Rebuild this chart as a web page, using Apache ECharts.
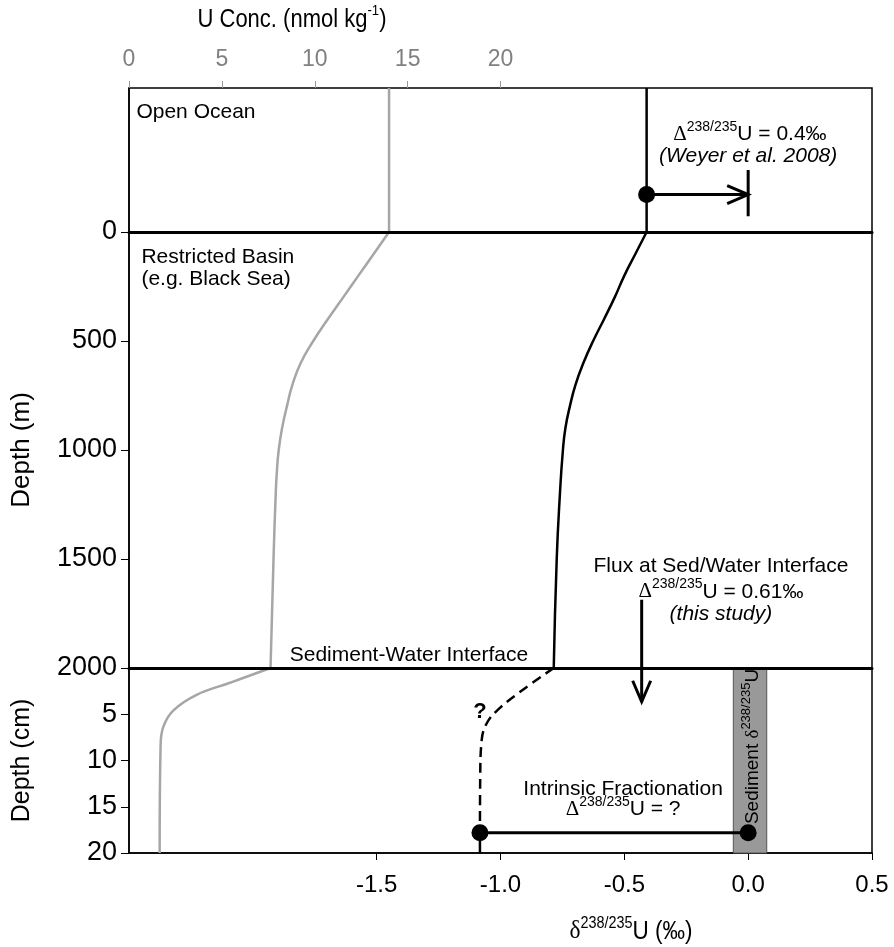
<!DOCTYPE html>
<html><head><meta charset="utf-8">
<script src="https://cdn.jsdelivr.net/npm/echarts@6/dist/echarts.min.js"></script>
<style>html,body{margin:0;padding:0;background:#fff}#c{width:894px;height:947px}</style>
</head><body><div id="c"></div>
<script>
// ---------------- data ----------------
const uConcTicks = [0, 5, 10, 15, 20];
const deltaTicks = [-1.5, -1.0, -0.5, 0.0, 0.5];

// open ocean panel has no depth scale: 0 = top of panel, 1 = sea level
const oceanPanel = [0, 1];
const oceanU = 14;
const oceanDelta = -0.41;

// restricted basin (depth in m)
const basinDepthU = [0, 100, 200, 300, 400, 500, 600, 700, 800, 900, 1000, 1100, 1200, 1500, 2000];
const basinU      = [14, 13.18, 12.35, 11.53, 10.7, 9.92, 9.25, 8.8, 8.5, 8.24, 8.06, 7.96, 7.9, 7.78, 7.62];
const basinDepthDelta = [0, 100, 200, 300, 400, 500, 600, 700, 800, 900, 1000, 1200, 1500, 2000];
const basinDelta      = [-0.41, -0.455, -0.50, -0.539, -0.582, -0.626, -0.665, -0.697, -0.72, -0.738, -0.748, -0.76, -0.773, -0.785];

// sediment (depth in cm)
const sedDepthU = [0, 1.6, 2.9, 4.6, 6.4, 8.5, 20];
const sedU      = [7.62, 5.43, 3.64, 2.38, 1.84, 1.7, 1.65];
const sedDepthDelta = [0, 2.6, 4.5, 6.0, 7.8, 12, 17.8];
const sedDelta      = [-0.785, -0.922, -1.01, -1.056, -1.076, -1.082, -1.083];
const sedTailDepth = [17.8, 20];
const sedTailDelta = [-1.083, -1.083];

// annotation marks
const weyerArrowDelta = [-0.41, 0.0];
const weyerArrowLevel = 0.74;
const weyerBarLevel = [0.57, 0.89];
const fluxDelta = -0.43;
const fluxStartDepthM = 1687;
const fluxEndDepthCm = 3.65;
const intrinsicDelta = [-1.083, 0.0];
const intrinsicDepthCm = 17.8;
const sedimentBand = [-0.06, 0.075];

// ---------------- styles ----------------
const SANS = '"Liberation Sans", Arial, sans-serif';
const SERIF = '"Liberation Serif", "Times New Roman", serif';
const FS = 21;
const LH = 25;
const rich = {
  b: { fontSize: FS, fontFamily: SANS, lineHeight: LH, verticalAlign: 'bottom', color: '#000' },
  i: { fontSize: FS, fontFamily: SANS, fontStyle: 'italic', lineHeight: LH, verticalAlign: 'bottom', color: '#000' },
  g: { fontSize: FS, fontFamily: SERIF, lineHeight: LH, verticalAlign: 'bottom', color: '#000' },
  s: { fontSize: 14, fontFamily: SANS, lineHeight: 13, verticalAlign: 'top', color: '#000' },
  q: { fontSize: 22, fontFamily: SANS, fontWeight: 'bold', lineHeight: LH, verticalAlign: 'bottom', color: '#000' }
};

const oceanNotes = [
  { at: [-2.47, 0.153], text: '{b|Open Ocean}', align: 'left' },
  { at: [0.007, 0.31], text: '{g|Δ}{s|238/235}{b|U = 0.4‰}' },
  { at: [0.0, 0.46], text: '{i|(Weyer et al. 2008)}' }
];
const basinNotes = [
  { at: [-2.45, 105], text: '{b|Restricted Basin}', align: 'left' },
  { at: [-2.45, 206], text: '{b|(e.g. Black Sea)}', align: 'left' },
  { at: [-1.851, 1931], text: '{b|Sediment-Water Interface}', align: 'left' },
  { at: [-0.11, 1523], text: '{b|Flux at Sed/Water Interface}' },
  { at: [-0.11, 1642], text: '{g|Δ}{s|238/235}{b|U = 0.61‰}' },
  { at: [-0.11, 1743], text: '{i|(this study)}' }
];
const sedNotes = [
  { at: [-1.083, 4.55], text: '{q|?}' },
  { at: [-0.505, 12.9], text: '{b|Intrinsic Fractionation}' },
  { at: [-0.505, 15.1], text: '{g|Δ}{s|238/235}{b|U = ?}' }
];

function zip(xs, ys) { return xs.map((x, i) => [x, ys[i]]); }

function notesSeries(notes, xi, yi) {
  return {
    type: 'custom', xAxisIndex: xi, yAxisIndex: yi, z: 10, silent: true,
    data: notes.map((n, i) => [n.at[0], n.at[1], i]),
    renderItem: (params, api) => {
      const n = notes[api.value(2)];
      const p = api.coord([api.value(0), api.value(1)]);
      return { type: 'text', x: p[0], y: p[1],
        style: { text: n.text, rich: rich, align: n.align || 'center', verticalAlign: 'middle' } };
    }
  };
}

function arrowItem(params, api) {
  const a = api.coord([api.value(0), api.value(1)]);
  const b = api.coord([api.value(2), api.value(3)]);
  const dx = b[0] - a[0], dy = b[1] - a[1], len = Math.hypot(dx, dy) || 1;
  const ux = dx / len, uy = dy / len, px = -uy, py = ux;
  const L = 21, W = 9;
  return { type: 'group', children: [
    { type: 'line', shape: { x1: a[0], y1: a[1], x2: b[0], y2: b[1] }, style: { stroke: '#000', lineWidth: 3 } },
    { type: 'polyline', shape: { points: [
        [b[0] - ux * L + px * W, b[1] - uy * L + py * W], [b[0], b[1]],
        [b[0] - ux * L - px * W, b[1] - uy * L - py * W]] },
      style: { stroke: '#000', lineWidth: 3, fill: null } }
  ]};
}

const GRAY = '#a6a6a6';
const LEFT = 129, RIGHT = 22;

const hiddenX = (grid, min, max) => ({ type: 'value', gridIndex: grid, min: min, max: max, show: false });

const option = {
  animation: false,
  backgroundColor: '#fff',
  grid: [
    { left: LEFT, right: RIGHT, top: 88, height: 144, show: true, borderColor: '#000', borderWidth: 1.5 },
    { left: LEFT, right: RIGHT, top: 232, height: 436, show: true, borderColor: '#000', borderWidth: 1.5 },
    { left: LEFT, right: RIGHT, top: 668, height: 185, show: true, borderColor: '#000', borderWidth: 1.5 }
  ],
  xAxis: [
    { // 0: U conc, top of open-ocean panel
      type: 'value', gridIndex: 0, position: 'top', min: 0, max: 40, interval: 5,
      axisLine: { show: false }, splitLine: { show: false },
      axisTick: { show: true, customValues: uConcTicks, length: 7, lineStyle: { color: '#999', width: 1 } },
      axisLabel: { customValues: uConcTicks, color: '#808080', fontFamily: SANS, fontSize: 23, margin: 17 }
    },
    hiddenX(0, -2.5, 0.5),          // 1: delta, ocean
    hiddenX(1, 0, 40),              // 2: U, basin
    { // 3: delta, basin (sea-level line)
      type: 'value', gridIndex: 1, position: 'top', min: -2.5, max: 0.5, z: 5,
      axisLine: { show: true, lineStyle: { color: '#000', width: 3 } },
      axisTick: { show: false }, axisLabel: { show: false }, splitLine: { show: false }
    },
    { // 4: basin bottom (sediment-water interface line)
      type: 'value', gridIndex: 1, position: 'bottom', min: -2.5, max: 0.5, z: 5,
      axisLine: { show: true, lineStyle: { color: '#000', width: 3 } },
      axisTick: { show: false }, axisLabel: { show: false }, splitLine: { show: false }
    },
    hiddenX(2, 0, 40),              // 5: U, sediment
    { // 6: delta, sediment (labelled bottom axis)
      type: 'value', gridIndex: 2, position: 'bottom', min: -2.5, max: 0.5, interval: 0.5,
      axisLine: { show: true, lineStyle: { color: '#000', width: 1.5 } },
      axisTick: { show: true, customValues: deltaTicks, length: 7, lineStyle: { color: '#000', width: 1 } },
      axisLabel: { customValues: deltaTicks, color: '#000', fontFamily: SANS, fontSize: 24, margin: 20,
        formatter: v => v.toFixed(1) },
      splitLine: { show: false }
    }
  ],
  yAxis: [
    { type: 'value', gridIndex: 0, min: oceanPanel[0], max: oceanPanel[1], inverse: true,
      axisLine: { show: true, lineStyle: { color: '#000', width: 1.5 } },
      axisTick: { show: false }, axisLabel: { show: false }, splitLine: { show: false } },
    { type: 'value', gridIndex: 1, min: 0, max: 2000, interval: 500, inverse: true,
      name: 'Depth (m)', nameLocation: 'middle', nameGap: 94,
      nameTextStyle: { fontFamily: SANS, fontSize: 26, color: '#000' },
      axisLine: { show: true, lineStyle: { color: '#000', width: 1.5 } },
      axisTick: { show: true, length: 8, lineStyle: { color: '#000' } },
      axisLabel: { color: '#000', fontFamily: SANS, fontSize: 27, margin: 12, formatter: v => String(v) },
      splitLine: { show: false } },
    { type: 'value', gridIndex: 2, min: 0, max: 20, interval: 5, inverse: true,
      name: 'Depth (cm)', nameLocation: 'middle', nameGap: 94,
      nameTextStyle: { fontFamily: SANS, fontSize: 25, color: '#000' },
      axisLine: { show: true, lineStyle: { color: '#000', width: 1.5 } },
      axisTick: { show: true, length: 8, lineStyle: { color: '#000' } },
      axisLabel: { color: '#000', fontFamily: SANS, fontSize: 27, margin: 12,
        formatter: v => (v === 0 ? '' : String(v)) },
      splitLine: { show: false } }
  ],
  graphic: [
    { type: 'text', x: 292, y: 18, scaleX: 0.88, style: {
        text: '{t|U Conc. (nmol kg}{u|-1}{t|)}', align: 'center', verticalAlign: 'middle',
        rich: {
          t: { fontSize: 25, fontFamily: SANS, color: '#808080', lineHeight: 29, verticalAlign: 'bottom' },
          u: { fontSize: 15, fontFamily: SANS, color: '#808080', lineHeight: 14, verticalAlign: 'top' }
        } } },
    { type: 'text', x: 631, y: 930, scaleX: 0.9, style: {
        text: '{g|δ}{s|238/235}{t|U (‰)}', align: 'center', verticalAlign: 'middle',
        rich: {
          g: { fontSize: 26, fontFamily: SERIF, color: '#000', lineHeight: 29, verticalAlign: 'bottom' },
          t: { fontSize: 25, fontFamily: SANS, color: '#000', lineHeight: 29, verticalAlign: 'bottom' },
          s: { fontSize: 16, fontFamily: SANS, color: '#000', lineHeight: 14, verticalAlign: 'top' }
        } } }
  ],
  series: [
    // U concentration profile
    { type: 'line', xAxisIndex: 0, yAxisIndex: 0, data: [[oceanU, oceanPanel[0]], [oceanU, oceanPanel[1]]],
      symbol: 'none', lineStyle: { color: GRAY, width: 2.5 }, silent: true },
    { type: 'line', xAxisIndex: 2, yAxisIndex: 1, data: zip(basinU, basinDepthU), smooth: 0.5,
      symbol: 'none', lineStyle: { color: GRAY, width: 2.5 }, silent: true },
    { type: 'line', xAxisIndex: 5, yAxisIndex: 2, data: zip(sedU, sedDepthU), smooth: 0.4,
      symbol: 'none', lineStyle: { color: GRAY, width: 2.5 }, silent: true },
    // delta profile
    { type: 'line', xAxisIndex: 1, yAxisIndex: 0, data: [[oceanDelta, oceanPanel[0]], [oceanDelta, oceanPanel[1]]],
      symbol: 'none', lineStyle: { color: '#000', width: 2.5 }, silent: true },
    { type: 'line', xAxisIndex: 3, yAxisIndex: 1, data: zip(basinDelta, basinDepthDelta), smooth: 0.5,
      symbol: 'none', lineStyle: { color: '#000', width: 2.5 }, silent: true },
    { type: 'line', xAxisIndex: 6, yAxisIndex: 2, data: zip(sedDelta, sedDepthDelta), smooth: 0.4,
      symbol: 'none', lineStyle: { color: '#000', width: 2.5, type: [10, 6] }, silent: true },
    { type: 'line', xAxisIndex: 6, yAxisIndex: 2, data: zip(sedTailDelta, sedTailDepth),
      symbol: 'none', lineStyle: { color: '#000', width: 2.5 }, silent: true },
    // sediment delta band
    { type: 'custom', xAxisIndex: 6, yAxisIndex: 2, z: 1, silent: true,
      data: [[sedimentBand[0], sedimentBand[1], 0, 20]],
      renderItem: (params, api) => {
        const p0 = api.coord([api.value(0), api.value(2)]);
        const p1 = api.coord([api.value(1), api.value(3)]);
        const cx = (p0[0] + p1[0]) / 2, cy = (p0[1] + p1[1]) / 2 - 14;
        return { type: 'group', children: [
          { type: 'rect', shape: { x: p0[0], y: p0[1] + 1.5, width: p1[0] - p0[0], height: p1[1] - p0[1] - 1.5 },
            style: { fill: '#999999', stroke: '#555', lineWidth: 1 } },
          { type: 'text', x: cx + 1, y: cy, rotation: Math.PI / 2, style: {
              text: '{b|Sediment }{g|δ}{s|238/235}{b|U}', align: 'center', verticalAlign: 'middle',
              rich: {
                b: { fontSize: 19, fontFamily: SANS, lineHeight: 23, verticalAlign: 'bottom', color: '#000' },
                g: { fontSize: 19, fontFamily: SERIF, lineHeight: 23, verticalAlign: 'bottom', color: '#000' },
                s: { fontSize: 13, fontFamily: SANS, lineHeight: 12, verticalAlign: 'top', color: '#000' }
              } } }
        ]};
      } },
    // Weyer arrow in open ocean
    { type: 'custom', xAxisIndex: 1, yAxisIndex: 0, silent: true,
      data: [[weyerArrowDelta[0], weyerArrowLevel, weyerArrowDelta[1], weyerArrowLevel]],
      renderItem: arrowItem },
    { type: 'line', xAxisIndex: 1, yAxisIndex: 0, silent: true,
      data: [[weyerArrowDelta[1], weyerBarLevel[0]], [weyerArrowDelta[1], weyerBarLevel[1]]],
      symbol: 'none', lineStyle: { color: '#000', width: 3 } },
    { type: 'scatter', xAxisIndex: 1, yAxisIndex: 0, silent: true, z: 6,
      data: [[weyerArrowDelta[0], weyerArrowLevel]], symbolSize: 17, itemStyle: { color: '#000', opacity: 1 } },
    // flux arrow (basin part + sediment part with head)
    { type: 'line', xAxisIndex: 3, yAxisIndex: 1, silent: true,
      data: [[fluxDelta, fluxStartDepthM], [fluxDelta, 2000]],
      symbol: 'none', lineStyle: { color: '#000', width: 3 } },
    { type: 'custom', xAxisIndex: 6, yAxisIndex: 2, silent: true,
      data: [[fluxDelta, 0, fluxDelta, fluxEndDepthCm]], renderItem: arrowItem },
    // intrinsic fractionation
    { type: 'line', xAxisIndex: 6, yAxisIndex: 2, silent: true, z: 6,
      data: [[intrinsicDelta[0], intrinsicDepthCm], [intrinsicDelta[1], intrinsicDepthCm]],
      symbol: 'circle', symbolSize: 17, showSymbol: true,
      itemStyle: { color: '#000', opacity: 1 }, lineStyle: { color: '#000', width: 3 } },
    // text annotations
    notesSeries(oceanNotes, 1, 0),
    notesSeries(basinNotes, 3, 1),
    notesSeries(sedNotes, 6, 2)
  ]
};

const chart = echarts.init(document.getElementById('c'), null, { renderer: 'canvas' });
chart.setOption(option);
</script>
</body></html>
